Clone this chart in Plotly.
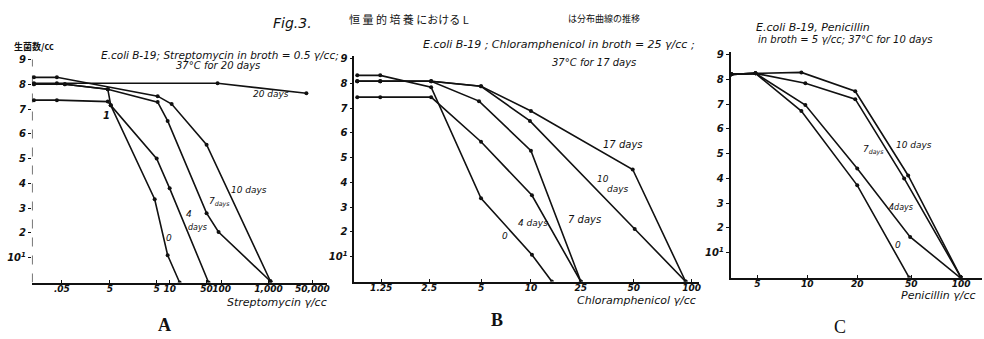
import plotly.graph_objects as go

# ---------------- data (x in axis position units, y in log10 viable count) -------------
A_tick_pos = [30, 78, 125, 138, 175, 190, 237, 281]
A_tick_text = [".05", "5", "5", "10", "50", "100", "1,000", "50,000"]
A_series = {
    "0":       ([2, 25, 76, 79, 123, 136, 148], [7.36, 7.36, 7.3, 7.15, 3.36, 1.1, 0.0]),
    "4 days":  ([2, 33, 76, 79, 125, 138, 177], [8.0, 8.0, 7.8, 7.15, 5.0, 3.8, 0.0]),
    "7 days":  ([2, 33, 76, 126, 136, 175, 187, 239], [8.0, 8.0, 7.8, 7.28, 6.52, 2.8, 2.04, 0.05]),
    "10 days": ([2, 25, 126, 140, 175, 239], [8.28, 8.28, 7.52, 7.2, 5.56, 0.05]),
    "20 days": ([2, 25, 186, 275], [8.04, 8.04, 8.04, 7.64]),
}

B_tick_pos = [27, 75, 127, 177, 227, 280, 338]
B_tick_text = ["1.25", "2.5", "5", "10", "25", "50", "100"]
B_series = {
    "0":       ([3, 26, 77, 127, 178, 198], [8.32, 8.32, 7.84, 3.36, 1.08, 0.0]),
    "4 days":  ([3, 26, 77, 127, 178, 227], [7.44, 7.44, 7.44, 5.64, 3.48, 0.0]),
    "7 days":  ([3, 26, 77, 125, 177, 227], [8.08, 8.08, 8.08, 7.28, 5.28, 0.0]),
    "10 days": ([3, 26, 77, 127, 176, 281, 332], [8.08, 8.08, 8.08, 7.88, 6.48, 2.12, 0.0]),
    "17 days": ([3, 26, 77, 127, 177, 279, 332], [8.08, 8.08, 8.08, 7.88, 6.88, 4.52, 0.0]),
}

C_tick_pos = [27, 77, 127, 181, 231]
C_tick_text = ["5", "10", "20", "50", "100"]
C_series = {
    "0":       ([1, 25, 71, 127, 179], [8.2, 8.24, 6.72, 3.72, 0.0]),
    "4 days":  ([1, 25, 75, 127, 180, 230], [8.2, 8.24, 6.96, 4.4, 1.64, 0.0]),
    "7 days":  ([1, 25, 75, 125, 174, 231], [8.2, 8.24, 7.84, 7.2, 4.0, 0.0]),
    "10 days": ([1, 25, 71, 125, 178, 231], [8.2, 8.24, 8.28, 7.52, 4.12, 0.0]),
}

Y_tick_vals = [1, 2, 3, 4, 5, 6, 7, 8, 9]
Y_tick_text = ["10<sup>1</sup>", "2", "3", "4", "5", "6", "7", "8", "9"]

# ---------------- layout geometry (pixels) ----------------
W, H = 984, 339
PPU = 25.0  # pixels per log unit
panels = [
    (32, 328, 282, A_series, A_tick_pos, A_tick_text),
    (355, 700, 281, B_series, B_tick_pos, B_tick_text),
    (732, 984, 277, C_series, C_tick_pos, C_tick_text),
]
YMAX = 9.1

INK = "#111111"
HAND = "DejaVu Sans"
fig = go.Figure()
layout = dict(width=W, height=H, margin=dict(l=0, r=0, t=0, b=0),
              paper_bgcolor="white", plot_bgcolor="white", showlegend=False)

for i, (x0, x1, yb, series, tpos, ttext) in enumerate(panels):
    n = "" if i == 0 else str(i + 1)
    xa, ya = "xaxis" + n, "yaxis" + n
    ytop = yb - YMAX * PPU
    layout[xa] = dict(domain=[x0 / W, x1 / W], range=[0, x1 - x0], anchor="y" + n,
                      tickmode="array", tickvals=tpos, ticktext=ttext, tickangle=0,
                      showline=True, linecolor=INK, linewidth=2, ticks="inside",
                      ticklen=3, tickcolor=INK, showgrid=False, zeroline=False,
                      ticklabelstandoff=-3,
                      tickfont=dict(family=HAND, size=9, color=INK, style="italic", weight="bold"))
    layout[ya] = dict(domain=[(H - yb) / H, (H - ytop) / H], range=[0, YMAX], anchor="x" + n,
                      tickmode="array", tickvals=Y_tick_vals, ticktext=Y_tick_text,
                      showline=(i != 0), linecolor=INK, linewidth=1.5, ticks="outside",
                      ticklen=3, tickcolor=INK, showgrid=False, zeroline=False,
                      tickfont=dict(family=HAND, size=10, color=INK, style="italic", weight="bold"))
    for name, (xs, ys) in series.items():
        fig.add_trace(go.Scatter(x=xs, y=ys, mode="lines+markers", name=name,
                                 line=dict(color=INK, width=1.6),
                                 marker=dict(color=INK, size=4),
                                 xaxis="x" + n, yaxis="y" + n))

fig.update_layout(**layout)

# dashed y-axis of panel A
fig.add_shape(type="line", xref="x", yref="y", x0=0, x1=0, y0=0, y1=9,
              line=dict(color=INK, width=1.2, dash="dash"))

def P(px, py):
    return px / W, 1 - py / H

annots = []
def txt(px, py, s, size=11, style="italic", family=HAND, weight="normal", xanchor="center"):
    x, y = P(px, py)
    annots.append(dict(x=x, y=y, xref="paper", yref="paper", text=s, showarrow=False,
                       xanchor=xanchor, yanchor="middle",
                       font=dict(family=family, size=size, color=INK, style=style, weight=weight)))

# figure title
txt(293, 20, "Fig.3.", size=14)
txt(410, 16, "恒 量 的 培 養 における L", size=11, style="normal", family="Noto Sans CJK JP")
txt(605, 16, "は分布曲線の推移", size=9, style="normal", family="Noto Sans CJK JP")
txt(34, 44, "生菌数/cc", size=9, style="normal", family="Noto Sans CJK JP", weight="bold")

# panel titles
txt(220, 52, "E.coli B-19; Streptomycin in broth = 0.5 γ/cc;", size=10.5)
txt(218, 63, "37°C for 20 days", size=10)
txt(560, 42, "E.coli B-19 ; Chloramphenicol in broth = 25 γ/cc ;", size=11)
txt(595, 60, "37°C for 17 days", size=10)
txt(815, 25, "E.coli B-19, Penicillin", size=11)
txt(847, 37, "in broth = 5 γ/cc; 37°C for 10 days", size=10)

# axis titles
txt(278, 302, "Streptomycin γ/cc", size=11)
txt(638, 300, "Chloramphenicol γ/cc", size=11)
txt(940, 295, "Penicillin γ/cc", size=11)

# panel letters
txt(165, 325, "A", size=18, style="normal", family="Liberation Serif", weight="bold")
txt(498, 320, "B", size=18, style="normal", family="Liberation Serif", weight="bold")
txt(842, 327, "C", size=18, style="normal", family="Liberation Serif")

# curve labels
txt(107, 114, "1", size=10, weight="bold")
txt(169, 237, "0", size=9)
txt(189, 213, "4", size=9)
txt(198, 227, "days", size=8)
txt(220, 201, "7<sub>days</sub>", size=9)
txt(250, 189, "10 days", size=9)
txt(272, 92, "20 days", size=9)

txt(506, 235, "0", size=9)
txt(534, 222, "4 days", size=9)
txt(586, 218, "7 days", size=10)
txt(604, 178, "10", size=9)
txt(619, 188, "days", size=9)
txt(624, 143, "17 days", size=10)

txt(900, 244, "0", size=9)
txt(903, 206, "4days", size=8)
txt(875, 148, "7<sub>days</sub>", size=9)
txt(916, 143, "10 days", size=9)

fig.update_layout(annotations=annots)
fig.write_html("out.html", config={"displayModeBar": False},
               post_script="document.body.style.margin='0';document.body.style.overflow='hidden';")
